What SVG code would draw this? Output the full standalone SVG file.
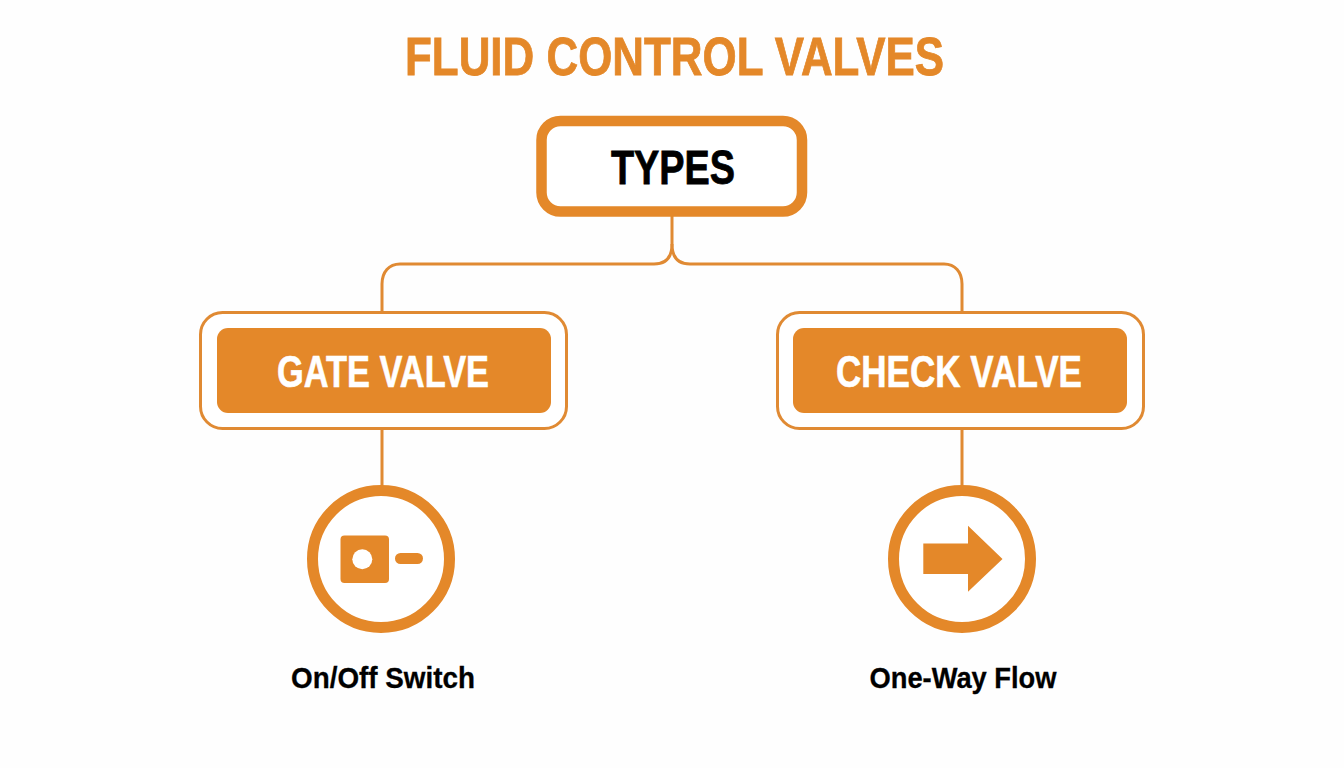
<svg xmlns="http://www.w3.org/2000/svg" width="1344" height="768" viewBox="0 0 1344 768">
<style>
.t{font-family:"Liberation Sans",Arial,sans-serif;font-weight:700;text-anchor:middle}
.c{fill:none;stroke:#e08a33;stroke-width:3}
.o{fill:#fff;stroke:#e08a33;stroke-width:3}
.f{fill:#e48829}
.r{fill:#fff;stroke:#e48829;stroke-width:11}
</style>
<rect width="1344" height="768" fill="#fefefe"/>
<text id="title" class="t" x="674.5" y="74.500" font-size="53" fill="#e48829" stroke="#e48829" stroke-width="0.8" textLength="539" lengthAdjust="spacingAndGlyphs">FLUID CONTROL VALVES</text>
<g id="connectors">
<path class="c" d="M672 216V244C672 256 667 264 654 264H400C389 264 382 272 382 284V312"/>
<path class="c" d="M672 244C672 256 677 264 690 264H944C955 264 962 272 962 284V312"/>
<path class="c" d="M382 429V490"/>
<path class="c" d="M962 429V490"/>
</g>
<g id="types">
<rect x="541.500" y="121" width="260.500" height="90.500" rx="19" fill="#fff" stroke="#e48829" stroke-width="10.500"/>
<text class="t" x="673" y="184" font-size="48" fill="#000" stroke="#000" stroke-width="0.8" textLength="124" lengthAdjust="spacingAndGlyphs">TYPES</text>
</g>
<g id="gate-valve">
<rect class="o" x="200.500" y="312.500" width="366" height="116" rx="22"/>
<rect class="f" x="217" y="328" width="334" height="85" rx="11"/>
<text class="t" x="383" y="386.500" font-size="44" fill="#fff" stroke="#fff" stroke-width="0.6" textLength="212" lengthAdjust="spacingAndGlyphs">GATE VALVE</text>
</g>
<g id="check-valve">
<rect class="o" x="777.500" y="312.500" width="366" height="116" rx="22"/>
<rect class="f" x="793" y="328" width="334" height="85" rx="11"/>
<text class="t" x="959" y="386.500" font-size="44" fill="#fff" stroke="#fff" stroke-width="0.6" textLength="246" lengthAdjust="spacingAndGlyphs">CHECK VALVE</text>
</g>
<g id="gate-icon">
<circle class="r" cx="381" cy="559" r="68.500"/>
<rect class="f" x="340.500" y="535.500" width="48.500" height="47.500" rx="4"/>
<circle cx="362.300" cy="559.300" r="10" fill="#fff"/>
<rect class="f" x="395" y="553" width="28" height="11" rx="5.500"/>
</g>
<g id="check-icon">
<circle class="r" cx="962" cy="559" r="68.500"/>
<path class="f" d="M923.300 543.500H968V525.700L1002.500 559L968 591.700V574H923.300Z"/>
</g>
<text id="gate-label" class="t" x="383" y="687.500" font-size="30" fill="#000" stroke="#000" stroke-width="0.3" textLength="184" lengthAdjust="spacingAndGlyphs">On/Off Switch</text>
<text id="check-label" class="t" x="963" y="687.500" font-size="30" fill="#000" stroke="#000" stroke-width="0.3" textLength="187" lengthAdjust="spacingAndGlyphs">One-Way Flow</text>
</svg>
